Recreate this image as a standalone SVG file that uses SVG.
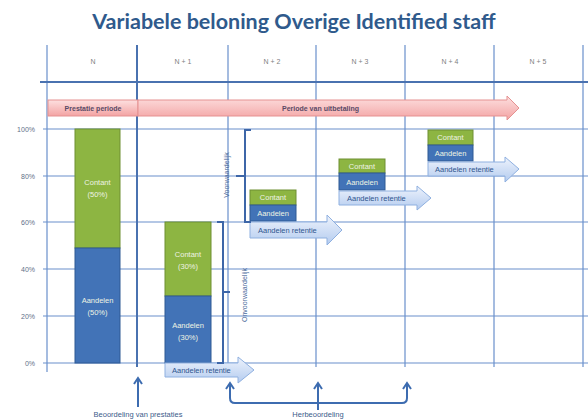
<svg xmlns="http://www.w3.org/2000/svg" width="588" height="419" viewBox="0 0 588 419">
<defs>
<linearGradient id="pink" x1="0" y1="0" x2="0" y2="1"><stop offset="0" stop-color="#fde0e0"/><stop offset="1" stop-color="#f3a3a3"/></linearGradient>
<linearGradient id="lblue" x1="0" y1="0" x2="0" y2="1"><stop offset="0" stop-color="#eef3fc"/><stop offset="1" stop-color="#b3cbef"/></linearGradient>
<style>
.grid{stroke:#6a90cc;stroke-width:1.2;fill:none}
.thick{stroke:#4a72b0;stroke-width:2;fill:none}
.ax{font-family:"Liberation Sans",Arial,sans-serif;font-size:7px;fill:#5f6f88;text-anchor:end}
.col{font-family:"Liberation Sans",Arial,sans-serif;font-size:7px;fill:#7f7f7f;text-anchor:middle}
.green{fill:#8db542;stroke:#6e8f33;stroke-width:1}
.blue{fill:#4273b7;stroke:#2f5a94;stroke-width:1}
.wt{font-family:"Liberation Sans",Arial,sans-serif;font-size:7.5px;fill:#eef3e4;text-anchor:middle}
.arr{fill:url(#lblue);stroke:#8fb0e0;stroke-width:1}
.at{font-family:"Liberation Sans",Arial,sans-serif;font-size:7.5px;fill:#2f558f}
.pk{fill:url(#pink);stroke:#e59191;stroke-width:1}
.pt{font-family:"Liberation Sans",Arial,sans-serif;font-size:7px;font-weight:bold;fill:#5a4a66}
.br{stroke:#3d66a8;stroke-width:2;fill:none}
.vt{font-family:"Liberation Sans",Arial,sans-serif;font-size:7px;fill:#4a6a9a;text-anchor:middle}
.con{stroke:#3d6cb0;stroke-width:2;fill:none}
.bt{font-family:"Liberation Sans",Arial,sans-serif;font-size:7.5px;fill:#3b5b8a;text-anchor:middle}
</style>
</defs>
<rect width="588" height="419" fill="#ffffff"/>
<g id="title"><text x="294" y="29" text-anchor="middle" font-family="Lato,'Open Sans',sans-serif" font-weight="bold" font-size="21.5" fill="#2f5a8c">Variabele beloning Overige Identified staff</text></g>
<g id="grid">
<path class="grid" d="M47 45 V372 M228 45 V367 M316 45 V367 M405 45 V367 M494 45 V367 M583 45 V367"/>
<path class="grid" d="M43 129 H588 M43 176 H588 M43 222 H588 M43 269 H588 M43 316 H588 M43 363 H588"/>
<path class="thick" d="M40 82 H588 M137 45 V367"/>
</g>
<g id="columns">
<text class="col" x="93" y="64">N</text>
<text class="col" x="183" y="64">N + 1</text>
<text class="col" x="272" y="64">N + 2</text>
<text class="col" x="360" y="64">N + 3</text>
<text class="col" x="450" y="64">N + 4</text>
<text class="col" x="538" y="64">N + 5</text>
</g>
<g id="yaxis">
<text class="ax" x="35" y="132">100%</text>
<text class="ax" x="35" y="179">80%</text>
<text class="ax" x="35" y="225">60%</text>
<text class="ax" x="35" y="272">40%</text>
<text class="ax" x="35" y="319">20%</text>
<text class="ax" x="35" y="366">0%</text>
</g>
<g id="periods">
<rect class="pk" x="48" y="100" width="90" height="16"/>
<text class="pt" x="93" y="111" text-anchor="middle">Prestatie periode</text>
<path class="pk" d="M138 100 H507 V96 L519 108 L507 120 V116 H138 Z"/>
<text class="pt" x="282" y="111">Periode van uitbetaling</text>
</g>
<g id="bar-n">
<rect class="green" x="75" y="129" width="45" height="119"/>
<rect class="blue" x="75" y="248" width="45" height="115"/>
<text class="wt" x="97.5" y="185">Contant</text><text class="wt" x="97.5" y="197">(50%)</text>
<text class="wt" x="97.5" y="303">Aandelen</text><text class="wt" x="97.5" y="315">(50%)</text>
</g>
<g id="bar-n1">
<rect class="green" x="165" y="222" width="46" height="74"/>
<rect class="blue" x="165" y="296" width="46" height="67"/>
<text class="wt" x="188" y="257">Contant</text><text class="wt" x="188" y="269">(30%)</text>
<text class="wt" x="188" y="328">Aandelen</text><text class="wt" x="188" y="340">(30%)</text>
<path class="arr" d="M165 363 H238 V357 L254 370 L238 383 V377 H165 Z"/>
<text class="at" x="172" y="373">Aandelen retentie</text>
</g>
<g id="stack-n2">
<rect class="green" x="250" y="190" width="46" height="15"/>
<rect class="blue" x="250" y="205" width="46" height="16"/>
<text class="wt" x="273" y="200">Contant</text>
<text class="wt" x="273" y="216">Aandelen</text>
<path class="arr" d="M250 222 H327 V215 L342 230 L327 245 V238 H250 Z"/>
<text class="at" x="258" y="233">Aandelen retentie</text>
</g>
<g id="stack-n3">
<rect class="green" x="339" y="159" width="46" height="14"/>
<rect class="blue" x="339" y="173" width="46" height="17"/>
<text class="wt" x="362" y="169">Contant</text>
<text class="wt" x="362" y="185">Aandelen</text>
<path class="arr" d="M339 191 H417 V186 L431 198 L417 210 V205 H339 Z"/>
<text class="at" x="347" y="201">Aandelen retentie</text>
</g>
<g id="stack-n4">
<rect class="green" x="428" y="130" width="45" height="15"/>
<rect class="blue" x="428" y="145" width="45" height="16"/>
<text class="wt" x="450.5" y="140">Contant</text>
<text class="wt" x="450.5" y="156">Aandelen</text>
<path class="arr" d="M428 162 H505 V157 L519 169 L505 182 V176 H428 Z"/>
<text class="at" x="435" y="172">Aandelen retentie</text>
</g>
<g id="onvoorwaardelijk">
<path class="br" d="M217 222 H223 V363 H217 M223 292 H230"/>
<text class="vt" transform="translate(247 295) rotate(-90)">Onvoorwaardelijk</text>
</g>
<g id="voorwaardelijk">
<path class="br" d="M251 130 H245 V222 H251 M245 176 H236"/>
<text class="vt" transform="translate(229 175) rotate(-90)">Voorwaardelijk</text>
</g>
<g id="connectors">
<path class="con" d="M138 407 V379 M134 384 L138 378 L142 384"/>
<path class="con" d="M230 384 V398 Q230 403 235 403 H402 Q407 403 407 398 V384"/>
<path class="con" d="M226 389 L230 383 L234 389 M403 389 L407 383 L411 389"/>
<path class="con" d="M318 410 V384 M314 389 L318 383 L322 389"/>
</g>
<g id="labels">
<text class="bt" x="138" y="417">Beoordeling van prestaties</text>
<text class="bt" x="318" y="417">Herbeoordeling</text>
</g>
</svg>
